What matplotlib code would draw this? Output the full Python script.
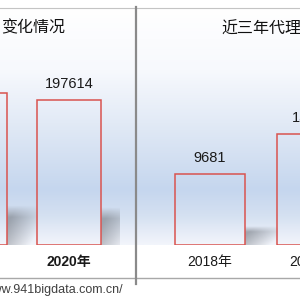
import numpy as np
import matplotlib
matplotlib.use("Agg")
from matplotlib import pyplot as plt
from matplotlib.colors import to_rgb

# values (the outer bars are cut by the frame)
left_years = ["2019年", "2020年"]
left_values = [207000, 197614]
right_years = ["2018年", "2019年"]
right_values = [9681, 15130]

W, H = 300, 300
plt.rcParams['font.family'] = ['Liberation Sans', 'Noto Sans CJK SC']

fig = plt.figure(figsize=(3, 3), dpi=100)

# background layer in pixel coordinates
bg = fig.add_axes([0, 0, 1, 1], zorder=0)
bg.set_xlim(0, W)
bg.set_ylim(H, 0)
bg.axis('off')

stops_y = [7, 70, 130, 190, 215, 245]
stops_c = ['#ffffff', '#f7f9fd', '#dfe8f5', '#c5d6ee', '#d4e0f1', '#f2f5fb']
rows = np.linspace(7, 245, 200)
cols = np.array([to_rgb(c) for c in stops_c])
grad = np.stack([np.interp(rows, stops_y, cols[:, k]) for k in range(3)], axis=-1)
bg.imshow(grad[:, None, :], extent=(0, W, 245, 7), aspect='auto', interpolation='bilinear')
bg.set_xlim(0, W)
bg.set_ylim(H, 0)

bg.plot([0, W], [7.5, 7.5], color='#c4c4c4', lw=0.8)
bg.plot([0, W], [278, 278], color='#a8a8a8', lw=1.0)
bg.plot([135.5, 135.5], [7, 284], color='#8a8a8a', lw=1.6)

bg.text(65, 28, "变化情况", ha='right', va='center', fontsize=11.5, fontweight='medium',
        family=['Noto Sans CJK SC'], color='#111111')
bg.text(221, 29, "近三年代理记账企业数量变化情况", ha='left', va='center', fontsize=11.5,
        fontweight='medium', family=['Noto Sans CJK SC'], color='#111111')
bg.text(123, 290, "http://www.941bigdata.com.cn/", ha='right', va='center',
        fontsize=9, color='#404040')


def shadow_image():
    X, Y = np.meshgrid(np.linspace(0, 1, 60), np.linspace(0, 1, 60))
    top_fade = np.clip((1 - Y) / 0.3, 0, 1)
    diag = np.clip(1.3 - 0.9 * X - 0.6 * (1 - Y), 0, 1)
    img = np.zeros((60, 60, 4))
    img[..., :3] = (0.45, 0.47, 0.5)
    img[..., 3] = 0.6 * top_fade * diag
    return img


def panel(px_left, px_right, center0, step, cats, vals, ytop, weight):
    ax = fig.add_axes([px_left / W, 55 / H, (px_right - px_left) / W, 238 / H], zorder=1)
    ax.patch.set_visible(False)
    x = np.arange(len(vals))
    width = 0.68
    sh = shadow_image()
    for i, v in zip(x, vals):
        ax.imshow(sh, extent=(i + width / 2, i + width / 2 + 0.32, 0, 0.26 * v),
                  origin='lower', aspect='auto', interpolation='bilinear', zorder=1)
        ax.annotate(f"{v}", (i, v), xytext=(0, 6.5), textcoords='offset points',
                    ha='center', va='bottom', fontsize=10.5, color='#1a1a1a')
    ax.bar(x, vals, width=width, fill=False, edgecolor='#d9534f', lw=1.1, zorder=3)
    lo = -(center0 - px_left) / step
    ax.set_xlim(lo, lo + (px_right - px_left) / step)
    ax.set_ylim(0, ytop)
    ax.set_xticks(x, cats)
    ax.set_yticks([])
    ax.tick_params(length=0, pad=7, labelsize=10)
    for t in ax.get_xticklabels():
        t.set_fontweight(weight)
        t.set_color('#1a1a1a')
    for s in ax.spines.values():
        s.set_visible(False)
    return ax


panel(-250, 119, -25, 94, left_years, left_values, 325000, 'bold')
panel(137, 500, 210, 102, right_years, right_values, 32500, 'normal')

fig.savefig('out.png', dpi=100)
